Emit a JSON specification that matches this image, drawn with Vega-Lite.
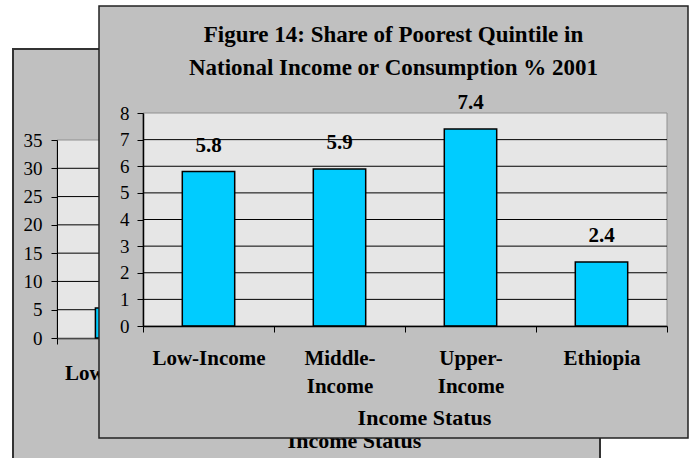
{
  "$schema": "https://vega.github.io/schema/vega-lite/v6.json",
  "background": "white",
  "width": 587,
  "height": 410,
  "autosize": "none",
  "padding": {"left": 13, "top": 49, "right": 92, "bottom": 0},
  "view": {"fill": "#c0c0c0", "stroke": "#333", "strokeWidth": 2},
  "config": {
    "axis": {
      "grid": false, "domainColor": "#000", "tickColor": "#000",
      "labelColor": "#000", "titleColor": "#000",
      "labelFont": "Liberation Serif", "titleFont": "Liberation Serif", "tickSize": 6
    },
    "text": {"font": "Liberation Serif"},
    "title": {"font": "Liberation Serif"}
  },
  "title": {
    "text": ["Figure 14: Share of Poorest Quintile in", "National Income or Consumption % 2001"],
    "fontSize": 23, "fontWeight": "bold", "color": "#000", "anchor": "middle", "frame": "group",
    "baseline": "alphabetic", "offset": 0, "dx": 87, "dy": 93, "lineHeight": 33, "zindex": 1
  },
  "datasets": {
    "front": [
      {"status": "Low-Income", "share": 5.8},
      {"status": "Middle-Income", "share": 5.9},
      {"status": "Upper-Income", "share": 7.4},
      {"status": "Ethiopia", "share": 2.4}
    ],
    "back": [
      {"status": "Low-Income", "share": 5.3}
    ],
    "frontGrid": [{"share": 1}, {"share": 2}, {"share": 3}, {"share": 4}, {"share": 5}, {"share": 6}, {"share": 7}],
    "backGrid": [{"share": 5}, {"share": 10}, {"share": 15}, {"share": 20}, {"share": 25}, {"share": 30}]
  },
  "resolve": {"scale": {"x": "independent", "y": "independent"}},
  "layer": [
    {
      "data": {"values": [{}]},
      "mark": {"type": "rect", "fill": "#e6e6e6", "stroke": "#909090", "strokeWidth": 1},
      "encoding": {
        "x": {"datum": 0, "type": "quantitative", "scale": {"domain": [0, 1], "range": [44, 556]}, "axis": null},
        "x2": {"datum": 1},
        "y": {"datum": 0, "type": "quantitative", "scale": {"domain": [0, 35], "range": [289, 91]}, "axis": null},
        "y2": {"datum": 35}
      }
    },
    {
      "data": {"name": "backGrid"},
      "mark": {"type": "rule", "stroke": "#000", "strokeWidth": 1},
      "encoding": {
        "x": {"datum": 0, "type": "quantitative", "scale": {"domain": [0, 1], "range": [44, 556]}, "axis": null},
        "x2": {"datum": 1},
        "y": {"field": "share", "type": "quantitative", "scale": {"domain": [0, 35], "range": [289, 91]}, "axis": null}
      }
    },
    {
      "data": {"name": "back"},
      "mark": {"type": "bar", "width": {"band": 0.4}, "fill": "#00ccff", "stroke": "#000", "strokeWidth": 1.5},
      "encoding": {
        "x": {
          "field": "status", "type": "nominal",
          "scale": {"domain": ["Low-Income", "Middle-Income", "Upper-Income", "Ethiopia"], "range": [44, 556], "paddingInner": 0, "paddingOuter": 0},
          "axis": {
            "orient": "bottom", "offset": -121, "zindex": 0, "labelAngle": 0, "tickBand": "extent", "domainWidth": 1.5,
            "labelFontSize": 21, "labelFontWeight": "bold", "labelBaseline": "alphabetic",
            "labelPadding": 35, "labelLineHeight": 28,
            "labelExpr": "indexof(['Middle-Income','Upper-Income'], datum.label) >= 0 ? [replace(datum.label, 'Income', ''), 'Income'] : datum.label",
            "title": "Income Status", "titleFontSize": 22, "titleFontWeight": "bold",
            "titleX": 341, "titleY": 109, "titleBaseline": "alphabetic"
          }
        },
        "y": {
          "field": "share", "type": "quantitative",
          "scale": {"domain": [0, 35], "range": [289, 91]},
          "axis": {"orient": "left", "offset": -44, "zindex": 1, "title": null, "values": [0, 5, 10, 15, 20, 25, 30, 35], "labelFontSize": 19, "labelPadding": 9}
        }
      }
    },
    {
      "data": {"values": [{}]},
      "mark": {"type": "rect", "fill": "#c0c0c0", "stroke": "#222", "strokeWidth": 1.5},
      "encoding": {
        "x": {"datum": 0, "type": "quantitative", "scale": {"domain": [0, 1], "range": [86, 675]}, "axis": null},
        "x2": {"datum": 1},
        "y": {"datum": 0, "type": "quantitative", "scale": {"domain": [0, 1], "range": [389, -43]}, "axis": null},
        "y2": {"datum": 1}
      }
    },
    {
      "data": {"values": [{}]},
      "mark": {"type": "rect", "fill": "#e6e6e6", "stroke": "#909090", "strokeWidth": 1},
      "encoding": {
        "x": {"datum": 0, "type": "quantitative", "scale": {"domain": [0, 1], "range": [130, 654]}, "axis": null},
        "x2": {"datum": 1},
        "y": {"datum": 0, "type": "quantitative", "scale": {"domain": [0, 8], "range": [277, 64]}, "axis": null},
        "y2": {"datum": 8}
      }
    },
    {
      "data": {"name": "frontGrid"},
      "mark": {"type": "rule", "stroke": "#000", "strokeWidth": 1},
      "encoding": {
        "x": {"datum": 0, "type": "quantitative", "scale": {"domain": [0, 1], "range": [130, 654]}, "axis": null},
        "x2": {"datum": 1},
        "y": {"field": "share", "type": "quantitative", "scale": {"domain": [0, 8], "range": [277, 64]}, "axis": null}
      }
    },
    {
      "data": {"name": "front"},
      "mark": {"type": "bar", "width": {"band": 0.4}, "fill": "#00ccff", "stroke": "#000", "strokeWidth": 1.5},
      "encoding": {
        "x": {
          "field": "status", "type": "nominal",
          "scale": {"domain": ["Low-Income", "Middle-Income", "Upper-Income", "Ethiopia"], "range": [130, 654], "paddingInner": 0, "paddingOuter": 0},
          "axis": {
            "orient": "bottom", "offset": -133, "zindex": 1, "labelAngle": 0, "tickBand": "extent", "domainWidth": 1.5,
            "labelFontSize": 21, "labelFontWeight": "bold", "labelBaseline": "alphabetic",
            "labelPadding": 32, "labelLineHeight": 28,
            "labelExpr": "indexof(['Middle-Income','Upper-Income'], datum.label) >= 0 ? [replace(datum.label, 'Income', ''), 'Income'] : datum.label",
            "title": "Income Status", "titleFontSize": 22, "titleFontWeight": "bold",
            "titleX": 411, "titleY": 98, "titleBaseline": "alphabetic"
          }
        },
        "y": {
          "field": "share", "type": "quantitative",
          "scale": {"domain": [0, 8], "range": [277, 64]},
          "axis": {"orient": "left", "offset": -130, "zindex": 1, "title": null, "values": [0, 1, 2, 3, 4, 5, 6, 7, 8], "labelFontSize": 19, "labelPadding": 8, "domainWidth": 1.5}
        }
      }
    },
    {
      "data": {"name": "front"},
      "mark": {"type": "text", "baseline": "alphabetic", "dy": -20, "fontSize": 21, "fontWeight": "bold", "color": "#000"},
      "encoding": {
        "x": {
          "field": "status", "type": "nominal",
          "scale": {"domain": ["Low-Income", "Middle-Income", "Upper-Income", "Ethiopia"], "range": [130, 654], "paddingInner": 0, "paddingOuter": 0},
          "axis": null
        },
        "y": {"field": "share", "type": "quantitative", "scale": {"domain": [0, 8], "range": [277, 64]}, "axis": null},
        "text": {"field": "share", "type": "quantitative", "format": ".1f"}
      }
    }
  ]
}
